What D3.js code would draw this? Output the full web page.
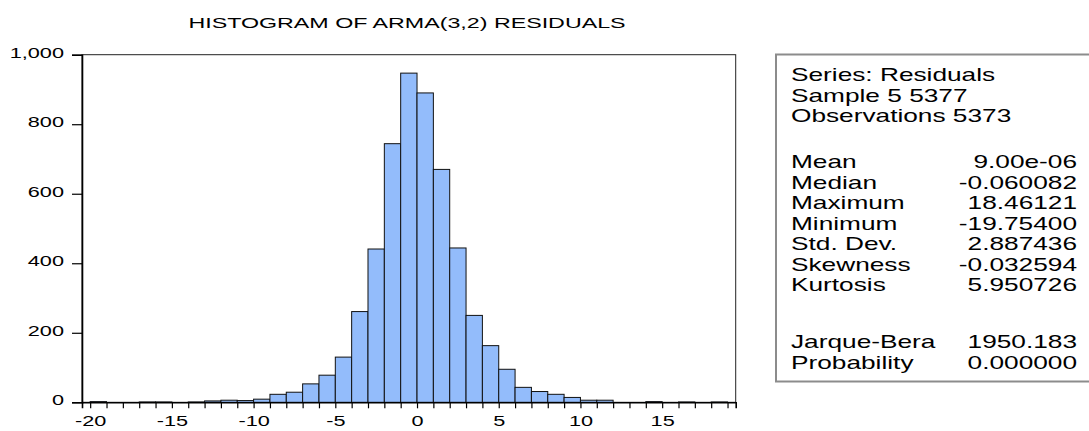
<!DOCTYPE html>
<html>
<head>
<meta charset="utf-8">
<script src="https://cdn.jsdelivr.net/npm/d3@7"></script>
<style>
  html, body { margin: 0; padding: 0; background: #fff; }
  svg { display: block; }
  text { font-family: "Liberation Sans", Arial, sans-serif; fill: #000; }
</style>
</head>
<body>
<svg id="chart" width="1089" height="431"></svg>
<script>
// ---- data ----
const title = "HISTOGRAM OF ARMA(3,2) RESIDUALS";
const binStarts = [-20,-19,-18,-17,-16,-15,-14,-13,-12,-11,-10,-9,-8,-7,-6,-5,-4,-3,-2,-1,0,1,2,3,4,5,6,7,8,9,10,11,12,13,14,15,16,17,18];
const binCounts = [2,0,0,1,1,0,1,4,6,5,9,23,29,53,78,130,261,441,744,947,890,670,444,250,163,95,43,31,23,14,6,6,0,0,2,0,1,0,1];
const binWidth = 1;
const xTickValues = [-20,-15,-10,-5,0,5,10,15];
const yTickValues = [0,200,400,600,800,1000];
const headerLines = ["Series: Residuals", "Sample 5 5377", "Observations 5373"];
const statLabels = ["Mean","Median","Maximum","Minimum","Std. Dev.","Skewness","Kurtosis"];
const statValues = ["9.00e-06","-0.060082","18.46121","-19.75400","2.887436","-0.032594","5.950726"];
const testLabels = ["Jarque-Bera","Probability"];
const testValues = ["1950.183","0.000000"];

// ---- layout ----
const SX = 1.55; // horizontal text stretch
const SXS = 1.5; // stretch for stats box text
const svg = d3.select("#chart");
const plot = {left: 82, right: 735.7, top: 54.7, bottom: 402.3};

const x = d3.scaleLinear().domain([-20.5, 19.5]).range([plot.left, plot.right]);
const y = d3.scaleLinear().domain([0, 1000]).range([plot.bottom, plot.top]);

function stretchedText(parent, px, py, str, size, anchor, sx) {
  return parent.append("text")
    .attr("transform", `translate(${px},${py}) scale(${sx || SX},1)`)
    .attr("text-anchor", anchor)
    .style("font-size", size + "px")
    .text(str);
}

// title
stretchedText(svg, 407, 27.7, title, 15, "middle");

// frame (top & right)
svg.append("rect")
  .attr("x", plot.left).attr("y", plot.top)
  .attr("width", plot.right - plot.left).attr("height", plot.bottom - plot.top)
  .attr("fill", "none").attr("stroke", "#222").attr("stroke-width", 1);

// bars
svg.append("g").selectAll("rect")
  .data(binStarts.map((s, i) => ({s, c: binCounts[i]})).filter(d => d.c > 0))
  .join("rect")
  .attr("x", d => x(d.s))
  .attr("width", d => x(d.s + binWidth) - x(d.s))
  .attr("y", d => y(d.c))
  .attr("height", d => y(0) - y(d.c))
  .attr("fill", "#93bcfb")
  .attr("stroke", "#111")
  .attr("stroke-width", 1);

// x axis
const xMinor = d3.range(-20, 20, 1);
const xAxis = svg.append("g").attr("transform", `translate(0,${plot.bottom})`)
  .call(d3.axisBottom(x).tickValues(xMinor).tickSize(6).tickFormat(d => xTickValues.includes(d) ? String(d) : ""));
xAxis.select(".domain").attr("stroke", "#000").attr("stroke-width", 1.6);
xAxis.selectAll(".tick line").attr("stroke", "#000").attr("stroke-width", 1.2);
xAxis.selectAll(".tick text")
  .attr("y", null).attr("dy", null)
  .attr("transform", `translate(0,23.4) scale(${SX},1)`)
  .style("font-size", "14px");

// y axis
const yAxis = svg.append("g").attr("transform", `translate(${plot.left},0)`)
  .call(d3.axisLeft(y).tickValues(yTickValues).tickSize(10).tickFormat(d3.format(",")));
yAxis.select(".domain").attr("stroke", "#000").attr("stroke-width", 1.6);
yAxis.selectAll(".tick line").attr("stroke", "#000").attr("stroke-width", 1.2);
yAxis.selectAll(".tick text")
  .attr("x", null).attr("dy", null)
  .attr("transform", `translate(-18,2.5) scale(${SX},1)`)
  .style("font-size", "14px");
svg.selectAll(".tick text").attr("font-family", null).attr("fill", "#000");

// stats box
const box = {left: 776, top: 54.5, right: 1095, bottom: 381.5};
svg.append("rect")
  .attr("x", box.left).attr("y", box.top)
  .attr("width", box.right - box.left).attr("height", box.bottom - box.top)
  .attr("fill", "none").attr("stroke", "#8c8c8c").attr("stroke-width", 2);

const labelX = 791, valueX = 1077, fs = 17.5, lh = 20.5;
headerLines.forEach((t, i) => stretchedText(svg, labelX, 81 + i * lh, t, fs, "start", SXS));
statLabels.forEach((t, i) => {
  stretchedText(svg, labelX, 168 + i * lh, t, fs, "start", SXS);
  stretchedText(svg, valueX, 168 + i * lh, statValues[i], fs, "end", SXS);
});
testLabels.forEach((t, i) => {
  stretchedText(svg, labelX, 348 + i * lh, t, fs, "start", SXS);
  stretchedText(svg, valueX, 348 + i * lh, testValues[i], fs, "end", SXS);
});
</script>
</body>
</html>
